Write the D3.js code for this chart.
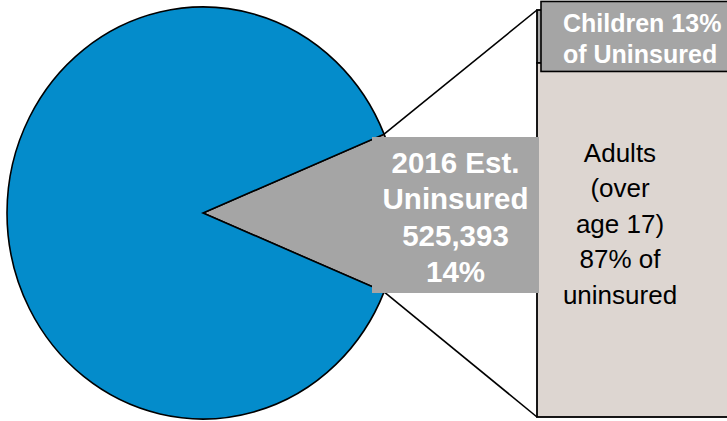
<!DOCTYPE html>
<html>
<head>
<meta charset="utf-8">
<script src="https://cdn.jsdelivr.net/npm/d3@7"></script>
<style>
  html, body { margin: 0; padding: 0; background: #ffffff; }
  svg { display: block; }
</style>
</head>
<body>
<div id="chart"></div>
<script>
// ---- data ----
const pieLabels = ["2016 Est. Uninsured", "Insured"];
const pieValues = [12.5, 87.5];
const barLabels = ["Children", "Adults"];
const barValues = [13, 87];
const sliceLabelLines = ["2016 Est.", "Uninsured", "525,393", "14%"];
const childLabelLines = ["Children 13%", "of Uninsured"];
const adultLabelLines = ["Adults", "(over", "age 17)", "87% of", "uninsured"];

// ---- layout ----
const W = 727, H = 421;
const cx = 203, cy = 213, rx = 196, ry = 206;
const barX = 537, barW = 210;
const colors = { blue: "#048ccb", grey: "#a5a5a5", adults: "#ddd6d1" };
const font = "'Liberation Sans', Arial, Helvetica, sans-serif";

const svg = d3.select("#chart").append("svg")
  .attr("width", W).attr("height", H)
  .attr("viewBox", `0 0 ${W} ${H}`);

// ---- pie ----
const total = d3.sum(pieValues);
const half = Math.PI * (pieValues[0] / total); // half angle of the slice
const pie = d3.pie().sort(null)
  .startAngle(Math.PI / 2 - half)
  .endAngle(Math.PI / 2 - half + 2 * Math.PI);
const arcs = pie(pieValues.map((v, i) => ({ label: pieLabels[i], value: v })).map(d => d.value));
const arc = d3.arc().innerRadius(0).outerRadius(ry);

const gPie = svg.append("g")
  .attr("transform", `translate(${cx},${cy}) scale(${rx / ry},1)`);
gPie.selectAll("path").data(arcs).join("path")
  .attr("d", arc)
  .attr("fill", (d, i) => i === 0 ? colors.grey : colors.blue)
  .attr("stroke", "#000")
  .attr("stroke-width", 1.6)
  .attr("stroke-linejoin", "miter")
  .attr("vector-effect", "non-scaling-stroke");

// slice outer corners in screen coordinates
function corner(a) {
  return [cx + Math.sin(a) * ry * (rx / ry), cy - Math.cos(a) * ry];
}
const sl = arcs[0];
const cTop = corner(sl.startAngle);
const cBot = corner(sl.endAngle);

// ---- bar ----
const y = d3.scaleLinear().domain([0, d3.sum(barValues)]).range([417, 10]);
let acc = d3.sum(barValues);
const segs = barValues.map((v, i) => {
  const top = acc; acc -= v;
  return { label: barLabels[i], value: v, y0: y(top), y1: y(acc) };
});

// connector lines
svg.append("line")
  .attr("x1", cTop[0]).attr("y1", cTop[1])
  .attr("x2", barX).attr("y2", y(d3.sum(barValues)))
  .attr("stroke", "#000").attr("stroke-width", 1.6);
svg.append("line")
  .attr("x1", cBot[0]).attr("y1", cBot[1])
  .attr("x2", barX).attr("y2", y(0))
  .attr("stroke", "#000").attr("stroke-width", 1.6);

svg.selectAll("rect.seg").data(segs).join("rect")
  .attr("class", "seg")
  .attr("x", barX).attr("width", barW)
  .attr("y", d => d.y0).attr("height", d => d.y1 - d.y0)
  .attr("fill", (d, i) => i === 0 ? colors.grey : colors.adults)
  .attr("stroke", "#000").attr("stroke-width", 1.8);

// children label box
const ch = segs[0];
const chMid = (ch.y0 + ch.y1) / 2;
const chBox = svg.append("g");
chBox.append("rect")
  .attr("x", barX + 4).attr("y", chMid - 35)
  .attr("width", barW).attr("height", 70)
  .attr("fill", colors.grey).attr("stroke", "#000").attr("stroke-width", 1.6);
chBox.selectAll("text").data(childLabelLines).join("text")
  .attr("x", 563)
  .attr("y", (d, i) => chMid - 4.5 + i * 31)
  .attr("fill", "#fff")
  .attr("font-family", font).attr("font-weight", "bold").attr("font-size", 25)
  .text(d => d);

// adults label
const ad = segs[1];
svg.append("g").selectAll("text").data(adultLabelLines).join("text")
  .attr("x", 620)
  .attr("y", (d, i) => 162 + i * 35.4)
  .attr("text-anchor", "middle")
  .attr("fill", "#000")
  .attr("font-family", font).attr("font-size", 26)
  .text(d => d);

// slice label box
const lbX = 372, lbY = 137, lbW = 167, lbH = 156;
const gl = svg.append("g");
gl.append("rect")
  .attr("x", lbX).attr("y", lbY).attr("width", lbW).attr("height", lbH)
  .attr("fill", colors.grey);
gl.selectAll("text").data(sliceLabelLines).join("text")
  .attr("x", lbX + lbW / 2)
  .attr("y", (d, i) => 172.5 + i * 36.6)
  .attr("text-anchor", "middle")
  .attr("fill", "#fff")
  .attr("font-family", font).attr("font-weight", "bold").attr("font-size", 29.5)
  .text(d => d);
</script>
</body>
</html>
